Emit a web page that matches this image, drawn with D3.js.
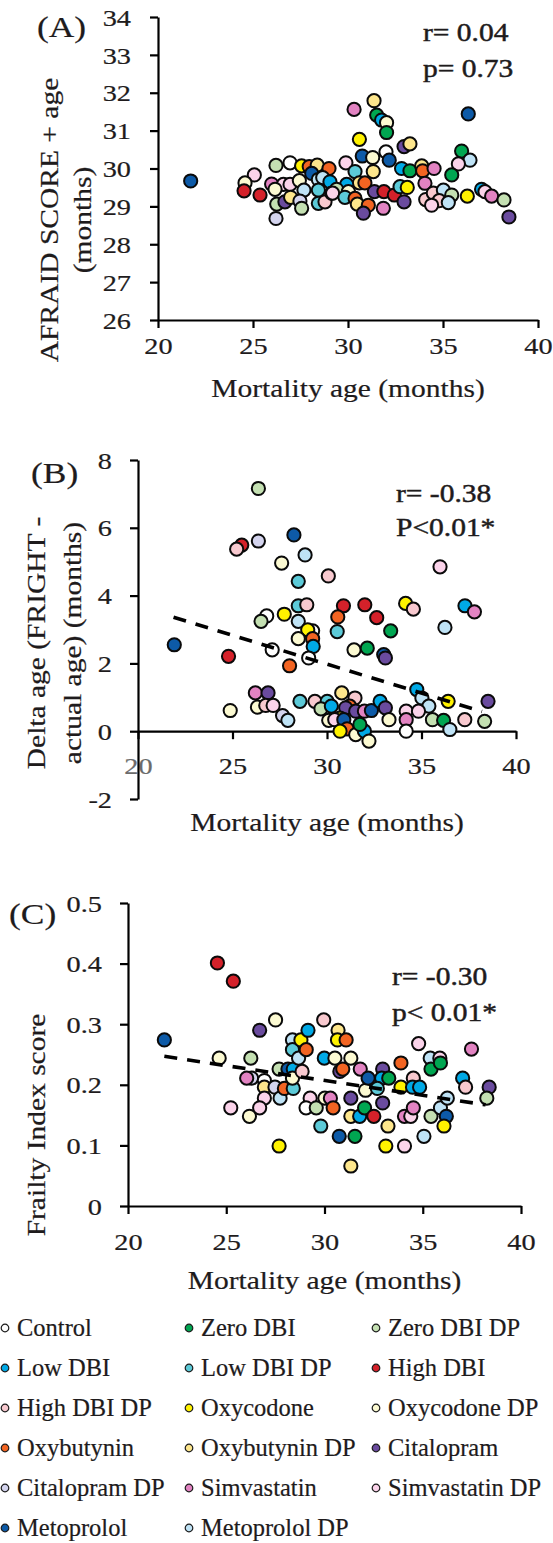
<!DOCTYPE html>
<html>
<head>
<meta charset="utf-8">
<script src="https://cdn.jsdelivr.net/npm/d3@7"></script>
<style>
  body { margin: 0; background: #fff; }
  svg { display: block; font-family: "Liberation Serif", "Times New Roman", serif; }
</style>
</head>
<body>
<div id="chart"></div>
<script>
// groups, in legend order
const groupKeys = ["C", "Z", "ZD", "L", "LD", "H", "HD", "O", "OD", "B", "BD", "T", "TD", "S", "SD", "M", "MD"];
const groupNames = ["Control", "Zero DBI", "Zero DBI DP", "Low DBI", "Low DBI DP", "High DBI",
  "High DBI DP", "Oxycodone", "Oxycodone DP", "Oxybutynin", "Oxybutynin DP", "Citalopram",
  "Citalopram DP", "Simvastatin", "Simvastatin DP", "Metoprolol", "Metoprolol DP"];
const groupColors = ["#ffffff", "#00a651", "#c4e0b2", "#00a9e6", "#5ccad8", "#d4212a",
  "#f8c9cf", "#fff200", "#fcfad2", "#f26422", "#fde68c", "#6a4b9e",
  "#d4d4ee", "#e283c2", "#fbd3ea", "#0d5aa7", "#bfe3f6"];

// (A) mortality age vs AFRAID score + age
const afraidData = [
  ["M",21.72,29.67],["ZD",26.21,30.08],["C",26.95,30.15],["O",27.56,30.07],["B",27.96,30.05],
  ["BD",28.38,30.09],["B",29.0,30.0],["M",28.09,29.87],["SD",25.07,29.83],["OD",24.58,29.62],
  ["H",24.53,29.41],["H",25.37,29.30],["S",25.98,29.59],["SD",26.6,29.58],["SD",26.95,29.58],
  ["OD",26.16,29.45],["OD",27.44,29.68],["MD",27.68,29.43],["MD",28.44,29.71],["MD",28.67,29.76],
  ["L",29.05,29.65],["LD",28.44,29.43],["ZD",26.25,29.06],["T",26.68,29.12],["BD",26.98,29.24],
  ["TD",27.47,29.14],["ZD",27.56,28.95],["TD",26.21,28.68],["LD",28.44,29.08],["HD",28.79,29.12],
  ["HD",29.14,29.35],["BD",31.37,31.79],["S",30.32,31.56],["Z",31.51,31.41],["L",31.77,31.28],
  ["OD",32.03,31.21],["Z",32.03,30.95],["O",30.6,30.77],["T",32.95,30.58],["BD",33.26,30.65],
  ["M",36.33,31.44],["M",30.75,30.33],["C",32.0,30.44],["OD",31.3,30.29],["M",32.17,30.22],
  ["SD",29.89,30.15],["Z",35.98,30.46],["MD",36.42,30.22],["SD",35.81,30.12],["Z",35.46,29.83],
  ["L",32.82,30.0],["Z",33.26,29.94],["BD",33.88,30.07],["B",33.93,29.94],["S",34.53,30.0],
  ["LD",30.37,29.92],["BD",31.33,29.92],["S",34.05,29.61],["BD",30.6,29.62],["L",29.93,29.58],
  ["B",30.89,29.62],["ZD",29.4,29.45],["SD",29.19,29.35],["OD",30.02,29.39],["LD",29.84,29.24],
  ["B",30.37,29.21],["BD",30.49,29.06],["B",31.07,29.03],["T",30.81,28.82],["T",31.39,29.39],
  ["H",31.89,29.39],["H",32.44,29.30],["LD",32.74,29.52],["O",33.12,29.50],["T",32.95,29.12],
  ["S",31.86,28.95],["HD",34.09,29.18],["HD",34.49,29.35],["MD",35.02,29.43],["ZD",35.46,29.30],
  ["HD",34.8,29.15],["SD",34.4,29.03],["MD",35.28,29.10],["O",36.28,29.27],["L",37.03,29.45],
  ["SD",37.21,29.39],["S",37.56,29.27],["ZD",38.21,29.17],["T",38.47,28.72]
];

// (B) mortality age vs delta age
const deltaData = [
  ["ZD",26.37,7.16],["H",25.49,5.49],["HD",25.22,5.37],["TD",26.37,5.61],["M",28.25,5.79],
  ["MD",28.84,5.20],["OD",27.6,4.96],["LD",28.48,4.42],["HD",30.07,4.58],["SD",35.98,4.85],
  ["LD",28.48,3.70],["HD",28.93,3.73],["H",30.87,3.70],["H",32.0,3.73],["H",32.63,3.35],
  ["B",30.57,3.37],["O",34.16,3.77],["HD",34.57,3.60],["L",37.3,3.70],["S",37.8,3.52],
  ["Z",33.37,2.96],["MD",36.24,3.06],["LD",30.54,2.94],["C",26.81,3.40],["ZD",26.51,3.24],
  ["O",27.74,3.45],["MD",28.48,3.24],["C",29.24,2.96],["O",28.98,2.99],["B",29.24,2.73],
  ["OD",28.48,2.73],["M",21.92,2.55],["L",29.27,2.50],["C",29.03,2.16],["C",27.1,2.40],
  ["OD",31.43,2.40],["Z",32.13,2.45],["M",33.0,2.26],["T",33.09,2.16],["H",24.79,2.21],
  ["B",28.02,1.93],["OD",24.88,0.61],["S",26.21,1.13],["T",26.88,1.13],["OD",26.32,0.71],
  ["HD",26.76,0.76],["SD",27.15,0.76],["TD",27.65,0.46],["MD",27.93,0.32],["LD",28.57,0.88],
  ["HD",29.36,0.88],["LD",30.01,0.88],["ZD",29.68,0.66],["OD",30.09,0.32],["BD",30.78,1.13],
  ["HD",31.48,0.98],["B",31.2,0.74],["T",30.99,0.69],["O",30.69,0.39],["SD",30.41,0.34],
  ["L",30.23,0.74],["M",30.89,0.34],["B",31.06,0.07],["O",30.69,0.0],["OD",31.52,-0.1],
  ["L",31.98,0.0],["OD",32.22,-0.29],["Z",31.74,0.20],["T",31.52,0.59],["S",31.98,0.59],
  ["M",32.35,0.61],["L",32.81,0.88],["T",33.09,0.69],["OD",33.28,0.34],["L",34.75,1.23],
  ["MD",35.02,0.98],["MD",35.39,0.74],["SD",34.19,0.59],["S",34.19,0.34],["C",34.19,0.0],
  ["SD",34.84,0.59],["O",36.41,0.88],["ZD",35.58,0.34],["Z",36.17,0.32],["MD",36.5,0.05],
  ["HD",37.29,0.34],["T",38.52,0.88],["ZD",38.34,0.29]
];
const deltaTrend = [[21.88, 3.36], [38.2, 0.58]];

// (C) mortality age vs frailty index
const frailtyData = [
  ["M",21.85,0.274],["OD",24.64,0.244],["H",24.55,0.401],["H",25.36,0.371],["SD",25.23,0.162],
  ["ZD",26.25,0.244],["TD",26.29,0.211],["S",26.04,0.211],["OD",26.18,0.148],["T",26.70,0.290],
  ["C",26.94,0.207],["BD",26.94,0.196],["SD",26.94,0.178],["SD",26.70,0.162],["OD",27.51,0.307],
  ["O",27.69,0.099],["TD",27.48,0.196],["MD",27.74,0.178],["ZD",27.69,0.226],["M",28.14,0.226],
  ["B",27.96,0.194],["MD",28.37,0.274],["LD",28.37,0.258],["L",28.41,0.226],["LD",28.41,0.194],
  ["MD",28.68,0.244],["OD",28.37,0.211],["O",28.80,0.274],["B",29.07,0.258],["L",29.16,0.290],
  ["HD",28.86,0.222],["SD",29.27,0.178],["C",29.06,0.162],["ZD",29.58,0.162],["LD",29.81,0.132],
  ["HD",29.96,0.307],["L",29.99,0.244],["OD",30.02,0.178],["S",30.3,0.178],["B",30.44,0.162],
  ["OD",30.53,0.244],["BD",30.69,0.290],["O",30.66,0.274],["B",31.1,0.274],["T",30.78,0.222],
  ["B",30.93,0.226],["M",30.75,0.115],["OD",31.34,0.244],["T",31.34,0.178],["BD",31.34,0.148],
  ["Z",31.55,0.115],["BD",31.34,0.066],["S",31.82,0.226],["L",31.79,0.148],["OD",32.09,0.191],
  ["Z",32.04,0.162],["H",32.51,0.148],["M",32.22,0.211],["T",32.96,0.226],["L",32.91,0.211],
  ["Z",33.27,0.211],["LD",32.69,0.194],["T",32.96,0.170],["BD",33.23,0.132],["O",33.12,0.099],
  ["B",33.89,0.236],["O",33.89,0.196],["S",34.07,0.148],["SD",34.39,0.148],["SD",34.07,0.099],
  ["SD",34.79,0.268],["HD",34.52,0.211],["S",34.52,0.162],["L",34.48,0.196],["L",34.84,0.196],
  ["MD",35.38,0.244],["SD",35.87,0.244],["Z",35.42,0.226],["Z",35.9,0.236],["MD",35.06,0.115],
  ["ZD",35.42,0.148],["MD",35.9,0.162],["MD",36.25,0.178],["M",36.2,0.148],["O",36.08,0.132],
  ["S",37.48,0.259],["L",37.03,0.211],["HD",37.18,0.196],["T",38.38,0.196],["ZD",38.26,0.178]
];
const frailtyTrend = [[21.85, 0.247], [38.2, 0.167]];

const xTicks = [20, 25, 30, 35, 40];
const afraidTicks = [26, 27, 28, 29, 30, 31, 32, 33, 34];
const deltaTicks = [-2, 0, 2, 4, 6, 8];
const frailtyTicks = [0, 0.1, 0.2, 0.3, 0.4, 0.5];

const W = 553, H = 1543;
const SX = 1.18; // the figure's type runs wide
const INK = "#1e1b1c";
const color = d3.scaleOrdinal(groupKeys, groupColors);

const svg = d3.select("#chart").append("svg").attr("width", W).attr("height", H);

function stxt(g, x, y, s, size, anchor, rot, weight) {
  return g.append("text")
    .attr("transform", `translate(${x},${y})` + (rot ? ` rotate(${rot})` : "") + ` scale(${SX},1)`)
    .attr("text-anchor", anchor || "start")
    .attr("font-size", size)
    .attr("fill", INK)
    .attr("stroke", INK)
    .attr("stroke-width", weight || 0.2)
    .text(s);
}

// plain hyphen for negatives, like the original
const fmtInt = d => String(d);
const fmtDec = d => d === 0 ? "0" : d.toFixed(1);

function panel(o) {
  const g = svg.append("g");
  const x = d3.scaleLinear([20, 40], o.xr);
  const y = d3.scaleLinear(o.yd, o.yr);
  const xAxisY = y(o.xAt);

  // y axis
  const ya = g.append("g").attr("transform", `translate(${o.xr[0]},0)`)
    .call(d3.axisLeft(y).tickValues(o.yTicks).tickSize(8).tickSizeOuter(0).tickPadding(o.yPad)
      .tickFormat(o.yFmt));
  // x axis
  const xa = g.append("g").attr("transform", `translate(0,${xAxisY})`)
    .call(d3.axisBottom(x).tickValues(xTicks).tickSize(8).tickSizeOuter(0).tickPadding(0).tickFormat(fmtInt));

  [ya, xa].forEach(a => {
    a.attr("font-family", null);
    a.select(".domain").attr("stroke", "#000").attr("stroke-width", 2.2);
    a.selectAll(".tick line").attr("stroke", "#000").attr("stroke-width", 2.2);
    a.selectAll("text").attr("font-size", 24).attr("fill", INK)
      .attr("stroke", INK).attr("stroke-width", 0.2);
  });
  ya.selectAll(".tick text").each(function () {
    const tx = -8 - o.yPad;
    d3.select(this).attr("x", 0).attr("dy", "0.34em").attr("transform", `translate(${tx},0) scale(${SX},1)`);
  });
  xa.selectAll(".tick text").attr("y", 0).attr("dy", 0)
    .attr("transform", `translate(0,${o.xLabDy}) scale(${SX},1)`);
  if (o.grayFirst) {
    xa.selectAll(".tick text").filter(d => d === 20).attr("fill", "#6b6b6b").attr("stroke", "#6b6b6b");
    xa.lower();
  }

  // points
  g.append("g").selectAll("circle").data(o.data).join("circle")
    .attr("cx", d => x(d[1])).attr("cy", d => y(d[2])).attr("r", 6.6)
    .attr("fill", d => color(d[0])).attr("stroke", "#0a0a0a").attr("stroke-width", 2);

  if (o.trend) {
    g.append("path").datum(o.trend)
      .attr("d", d3.line().x(d => x(d[0])).y(d => y(d[1])))
      .attr("fill", "none").attr("stroke", "#000").attr("stroke-width", 3.6)
      .attr("stroke-dasharray", "13,10");
  }

  // texts
  stxt(g, o.lab[0], o.lab[1], o.label, 30);
  stxt(g, o.st[0], o.st[1], o.stats[0], 25, "start", 0, 0.45);
  stxt(g, o.st[0], o.st[1] + o.st[2], o.stats[1], 25, "start", 0, 0.45);
  stxt(g, (o.xr[0] + o.xr[1]) / 2, o.xTitleY, "Mortality age (months)", 25, "middle");
  o.yTitle.forEach((s, i) => stxt(g, o.yTitleX[i], o.yTitleC, s, 25, "middle", -90));
}

panel({
  xr: [158, 538], yd: [26, 34], yr: [320, 17], xAt: 26,
  yTicks: afraidTicks, yFmt: fmtInt, yPad: 19, xLabDy: 34,
  data: afraidData, label: "(A)", lab: [37, 37],
  stats: ["r= 0.04", "p= 0.73"], st: [423, 41, 36],
  xTitleY: 397, yTitle: ["AFRAID SCORE + age", "(months)"], yTitleX: [58, 91], yTitleC: 220
});

panel({
  xr: [138, 516], yd: [-2, 8], yr: [799, 460], xAt: 0,
  yTicks: deltaTicks, yFmt: fmtInt, yPad: 18, xLabDy: 43, grayFirst: true,
  data: deltaData, trend: deltaTrend, label: "(B)", lab: [31, 483],
  stats: ["r= -0.38", "P<0.01*"], st: [396, 502, 34],
  xTitleY: 831, yTitle: ["Delta age (FRIGHT -", "actual age) (months)"], yTitleX: [45, 81], yTitleC: 643
});

panel({
  xr: [128, 521], yd: [0, 0.5], yr: [1206, 903], xAt: 0,
  yTicks: frailtyTicks, yFmt: fmtDec, yPad: 18, xLabDy: 44,
  data: frailtyData, trend: frailtyTrend, label: "(C)", lab: [9, 924],
  stats: ["r= -0.30", "p< 0.01*"], st: [392, 985, 36],
  xTitleY: 1289, yTitle: ["Frailty Index score"], yTitleX: [45], yTitleC: 1125
});

// legend
const legX = [5, 189, 376];
const leg = svg.append("g").selectAll("g").data(groupKeys).join("g")
  .attr("transform", (d, i) => `translate(${legX[i % 3]},${1328 + Math.floor(i / 3) * 40})`);
leg.append("circle").attr("r", 3.8).attr("fill", d => color(d))
  .attr("stroke", "#1a1a1a").attr("stroke-width", 1.2);
leg.append("text").attr("x", 12).attr("dy", "0.34em").attr("font-size", 24.5)
  .attr("fill", INK).attr("stroke", INK).attr("stroke-width", 0.2)
  .text((d, i) => groupNames[i]);
</script>
</body>
</html>
